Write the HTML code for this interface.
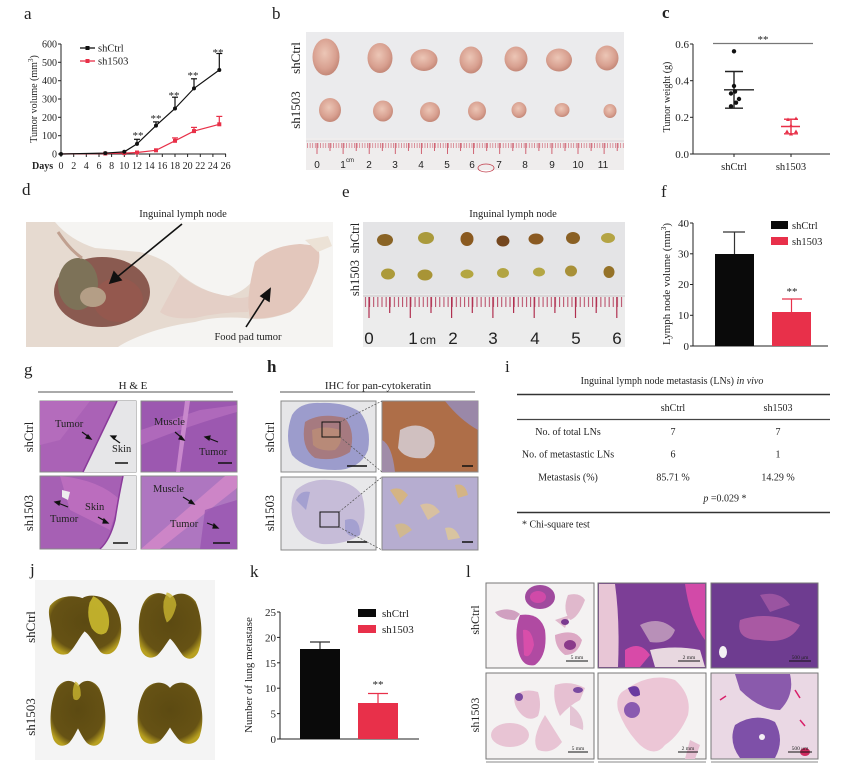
<!DOCTYPE html>
<html><head><meta charset="utf-8">
<style>
html,body{margin:0;padding:0;background:#fff;}
svg{display:block;}
text{font-family:"Liberation Serif",serif;fill:#222;}
.sans{font-family:"Liberation Sans",sans-serif;}
</style></head>
<body>
<svg width="852" height="772" viewBox="0 0 852 772" xmlns="http://www.w3.org/2000/svg">
<defs>
 <pattern id="mmB" x="307" y="0" width="2.61" height="20" patternUnits="userSpaceOnUse"><line x1="0.5" y1="0" x2="0.5" y2="20" stroke="#cc5566" stroke-width="0.6"/></pattern>
 <pattern id="mmE" x="369" y="0" width="4.13" height="20" patternUnits="userSpaceOnUse"><line x1="0.6" y1="0" x2="0.6" y2="20" stroke="#b03050" stroke-width="0.9"/></pattern>
 <radialGradient id="tum" cx="45%" cy="40%" r="60%"><stop offset="0" stop-color="#ecc6b6"/><stop offset="0.7" stop-color="#d8a090"/><stop offset="1" stop-color="#c48878"/></radialGradient>
 <radialGradient id="lung" cx="50%" cy="45%" r="60%"><stop offset="0" stop-color="#5c4a12"/><stop offset="0.8" stop-color="#665214"/><stop offset="1" stop-color="#b8a020"/></radialGradient>
</defs>

<!-- ============ panel a ============ -->
<text x="24" y="19" font-size="17">a</text>
<g stroke="#222" stroke-width="1" fill="none">
 <line x1="61" y1="44" x2="61" y2="154"/>
 <line x1="61" y1="154" x2="226" y2="154"/>
 <line x1="58" y1="44" x2="61" y2="44"/><line x1="58" y1="62.3" x2="61" y2="62.3"/><line x1="58" y1="80.7" x2="61" y2="80.7"/><line x1="58" y1="99" x2="61" y2="99"/><line x1="58" y1="117.3" x2="61" y2="117.3"/><line x1="58" y1="135.7" x2="61" y2="135.7"/><line x1="58" y1="154" x2="61" y2="154"/>
 <line x1="61" y1="154" x2="61" y2="157"/><line x1="73.7" y1="154" x2="73.7" y2="157"/><line x1="86.3" y1="154" x2="86.3" y2="157"/><line x1="99" y1="154" x2="99" y2="157"/><line x1="111.6" y1="154" x2="111.6" y2="157"/><line x1="124.3" y1="154" x2="124.3" y2="157"/><line x1="137" y1="154" x2="137" y2="157"/><line x1="149.6" y1="154" x2="149.6" y2="157"/><line x1="162.3" y1="154" x2="162.3" y2="157"/><line x1="175" y1="154" x2="175" y2="157"/><line x1="187.6" y1="154" x2="187.6" y2="157"/><line x1="200.3" y1="154" x2="200.3" y2="157"/><line x1="212.9" y1="154" x2="212.9" y2="157"/><line x1="225.6" y1="154" x2="225.6" y2="157"/>
</g>
<g font-size="10" text-anchor="end">
 <text x="57" y="47.5">600</text><text x="57" y="65.8">500</text><text x="57" y="84.2">400</text><text x="57" y="102.5">300</text><text x="57" y="120.8">200</text><text x="57" y="139.2">100</text><text x="57" y="157.5">0</text>
</g>
<g font-size="10" text-anchor="middle">
 <text x="61" y="169">0</text><text x="73.7" y="169">2</text><text x="86.3" y="169">4</text><text x="99" y="169">6</text><text x="111.6" y="169">8</text><text x="124.3" y="169">10</text><text x="137" y="169">12</text><text x="149.6" y="169">14</text><text x="162.3" y="169">16</text><text x="175" y="169">18</text><text x="187.6" y="169">20</text><text x="200.3" y="169">22</text><text x="212.9" y="169">24</text><text x="225.6" y="169">26</text>
</g>
<text x="32" y="169" font-size="10" font-weight="bold">Days</text>
<text transform="translate(37,99) rotate(-90)" font-size="10" text-anchor="middle" fill="#333">Tumor volume (mm<tspan font-size="7" dy="-4">3</tspan><tspan dy="4">)</tspan></text>
<!-- legend -->
<line x1="80" y1="48" x2="95" y2="48" stroke="#111" stroke-width="1.3"/><rect x="85.5" y="46" width="4" height="4" fill="#111"/>
<text x="98" y="51.5" font-size="10.5">shCtrl</text>
<line x1="80" y1="61" x2="95" y2="61" stroke="#e83048" stroke-width="1.3"/><rect x="85.5" y="59" width="4" height="4" fill="#e83048"/>
<text x="98" y="64.5" font-size="10.5">sh1503</text>
<!-- red series -->
<g stroke="#e83048" stroke-width="1.2" fill="none">
 <polyline points="61,154 105.3,153.5 124.3,153.1 137,152.5 156,150.3 175,140.8 194,131.1 219.3,124.3"/>
 <line x1="175" y1="140.8" x2="175" y2="137.9"/><line x1="172" y1="137.9" x2="178" y2="137.9"/>
 <line x1="194" y1="131.1" x2="194" y2="127.4"/><line x1="191" y1="127.4" x2="197" y2="127.4"/>
 <line x1="219.3" y1="124.3" x2="219.3" y2="116.4"/><line x1="216.3" y1="116.4" x2="222.3" y2="116.4"/>
</g>
<g fill="#e83048"><rect x="103.3" y="151.5" width="4" height="4"/><rect x="122.3" y="151.1" width="4" height="4"/><rect x="135" y="150.5" width="4" height="4"/><rect x="154" y="148.3" width="4" height="4"/><rect x="173" y="138.8" width="4" height="4"/><rect x="192" y="129.1" width="4" height="4"/><rect x="217.3" y="122.3" width="4" height="4"/></g>
<!-- black series -->
<g stroke="#111" stroke-width="1.2" fill="none">
 <polyline points="61,154 105.3,153.1 124.3,151.8 137,143.9 156,125.6 175,108.5 194,88.4 219.3,70"/>
 <line x1="137" y1="143.9" x2="137" y2="139.3"/><line x1="134" y1="139.3" x2="140" y2="139.3"/>
 <line x1="156" y1="125.6" x2="156" y2="121.9"/><line x1="153" y1="121.9" x2="159" y2="121.9"/>
 <line x1="175" y1="108.5" x2="175" y2="97.2"/><line x1="172" y1="97.2" x2="178" y2="97.2"/>
 <line x1="194" y1="88.4" x2="194" y2="78.8"/><line x1="191" y1="78.8" x2="197" y2="78.8"/>
 <line x1="219.3" y1="70" x2="219.3" y2="53.5"/><line x1="216.3" y1="53.5" x2="222.3" y2="53.5"/>
</g>
<g fill="#111"><circle cx="61" cy="154" r="2"/><circle cx="105.3" cy="153.1" r="2"/><circle cx="124.3" cy="151.8" r="2"/><circle cx="137" cy="143.9" r="2"/><circle cx="156" cy="125.6" r="2"/><circle cx="175" cy="108.5" r="2"/><circle cx="194" cy="88.4" r="2"/><circle cx="219.3" cy="70" r="2"/></g>
<g font-size="11" text-anchor="middle" fill="#333">
 <text x="138" y="139">**</text><text x="156" y="122">**</text><text x="174" y="99">**</text><text x="193" y="79">**</text><text x="218" y="56">**</text>
</g>

<!-- ============ panel b ============ -->
<text x="272" y="19" font-size="17">b</text>
<rect x="306" y="32" width="318" height="138" fill="#e8e8ea"/>
<rect x="306" y="32" width="318" height="108" fill="#ebebed"/>
<rect x="306" y="138" width="318" height="32" fill="#efeded"/>
<line x1="306" y1="141" x2="624" y2="141" stroke="#d8d4d6" stroke-width="1"/>
<rect x="307" y="143" width="317" height="5" fill="url(#mmB)"/>
<g stroke="#cc5566" stroke-width="0.9">
 <line x1="317" y1="143" x2="317" y2="154"/><line x1="343.1" y1="143" x2="343.1" y2="154"/><line x1="369.2" y1="143" x2="369.2" y2="154"/><line x1="395.3" y1="143" x2="395.3" y2="154"/><line x1="421.4" y1="143" x2="421.4" y2="154"/><line x1="447.5" y1="143" x2="447.5" y2="154"/><line x1="473.6" y1="143" x2="473.6" y2="154"/><line x1="499.7" y1="143" x2="499.7" y2="154"/><line x1="525.8" y1="143" x2="525.8" y2="154"/><line x1="551.9" y1="143" x2="551.9" y2="154"/><line x1="578" y1="143" x2="578" y2="154"/><line x1="604.1" y1="143" x2="604.1" y2="154"/>
 <line x1="330" y1="143" x2="330" y2="151"/><line x1="356.2" y1="143" x2="356.2" y2="151"/><line x1="382.3" y1="143" x2="382.3" y2="151"/><line x1="408.4" y1="143" x2="408.4" y2="151"/><line x1="434.5" y1="143" x2="434.5" y2="151"/><line x1="460.6" y1="143" x2="460.6" y2="151"/><line x1="486.7" y1="143" x2="486.7" y2="151"/><line x1="512.8" y1="143" x2="512.8" y2="151"/><line x1="538.9" y1="143" x2="538.9" y2="151"/><line x1="565" y1="143" x2="565" y2="151"/><line x1="591.1" y1="143" x2="591.1" y2="151"/><line x1="617.2" y1="143" x2="617.2" y2="151"/>
</g>
<g class="sans" font-size="10" text-anchor="middle">
 <text class="sans" x="317" y="168" fill="#c03a48">0</text><text class="sans" x="343" y="168" fill="#c03a48">1</text><text class="sans" x="350" y="162" font-size="6" fill="#c03a48">cm</text><text class="sans" x="369" y="168" fill="#c03a48">2</text><text class="sans" x="395" y="168" fill="#c03a48">3</text><text class="sans" x="421" y="168" fill="#c03a48">4</text><text class="sans" x="447" y="168" fill="#c03a48">5</text><text class="sans" x="472" y="168" fill="#c03a48">6</text><text class="sans" x="499" y="168" fill="#c03a48">7</text><text class="sans" x="525" y="168" fill="#c03a48">8</text><text class="sans" x="552" y="168" fill="#c03a48">9</text><text class="sans" x="578" y="168" fill="#c03a48">10</text><text class="sans" x="603" y="168" fill="#c03a48">11</text>
</g>
<ellipse cx="486" cy="168" rx="8" ry="4" fill="none" stroke="#c03a48" stroke-width="0.8"/>
<g fill="url(#tum)">
 <ellipse cx="326" cy="57" rx="13.5" ry="18.5"/><ellipse cx="380" cy="58" rx="12.5" ry="15"/><ellipse cx="424" cy="60" rx="13.5" ry="11"/><ellipse cx="471" cy="60" rx="11.5" ry="13.5"/><ellipse cx="516" cy="59" rx="11.5" ry="12.5"/><ellipse cx="559" cy="60" rx="13" ry="11.5"/><ellipse cx="607" cy="58" rx="11.5" ry="12.5"/>
 <ellipse cx="330" cy="110" rx="11" ry="12"/><ellipse cx="383" cy="111" rx="10" ry="10.5"/><ellipse cx="430" cy="112" rx="10" ry="10"/><ellipse cx="477" cy="111" rx="9" ry="9.5"/><ellipse cx="519" cy="110" rx="7.5" ry="8"/><ellipse cx="562" cy="110" rx="7.5" ry="7"/><ellipse cx="610" cy="111" rx="6.5" ry="7"/>
</g>
<text transform="translate(300,58) rotate(-90)" font-size="13" text-anchor="middle">shCtrl</text>
<text transform="translate(300,110) rotate(-90)" font-size="13" text-anchor="middle">sh1503</text>

<!-- ============ panel c ============ -->
<text x="662" y="18" font-size="17" font-weight="bold">c</text>
<g stroke="#222" stroke-width="1" fill="none">
 <line x1="693" y1="44" x2="693" y2="154"/><line x1="693" y1="154" x2="830" y2="154"/>
 <line x1="690" y1="44" x2="693" y2="44"/><line x1="690" y1="80.7" x2="693" y2="80.7"/><line x1="690" y1="117.3" x2="693" y2="117.3"/><line x1="690" y1="154" x2="693" y2="154"/>
 <line x1="734" y1="154" x2="734" y2="157"/><line x1="791" y1="154" x2="791" y2="157"/>
</g>
<g font-size="11" text-anchor="end"><text x="689" y="48">0.6</text><text x="689" y="84.5">0.4</text><text x="689" y="121">0.2</text><text x="689" y="158">0.0</text></g>
<g font-size="10.5" text-anchor="middle"><text x="734" y="170">shCtrl</text><text x="791" y="170">sh1503</text></g>
<text transform="translate(670,97) rotate(-90)" font-size="10" text-anchor="middle" fill="#333">Tumor weight (g)</text>
<line x1="713" y1="43.5" x2="813" y2="43.5" stroke="#777" stroke-width="1.2"/>
<text x="763" y="43" font-size="11" text-anchor="middle" fill="#444">**</text>
<g stroke="#222" stroke-width="1.4">
 <line x1="724" y1="89.8" x2="754" y2="89.8"/><line x1="734" y1="71.5" x2="734" y2="108.2"/><line x1="725" y1="71.5" x2="743" y2="71.5"/><line x1="725" y1="108.2" x2="743" y2="108.2"/>
</g>
<g fill="#111"><circle cx="734" cy="51.3" r="2.2"/><circle cx="734" cy="86" r="2.2"/><circle cx="735" cy="91.6" r="2.2"/><circle cx="731" cy="93.5" r="2.2"/><circle cx="739" cy="99" r="2.2"/><circle cx="736" cy="102.7" r="2.2"/><circle cx="731" cy="106.3" r="2.2"/></g>
<g stroke="#e83048" stroke-width="1.4">
 <line x1="781" y1="126.5" x2="800" y2="126.5"/><line x1="791" y1="119.2" x2="791" y2="133.8"/><line x1="784" y1="119.2" x2="798" y2="119.2"/><line x1="784" y1="133.8" x2="798" y2="133.8"/>
</g>
<g fill="#e83048"><path d="M786,121 l2,-3.5 l2,3.5z"/><path d="M794,120 l2,-3.5 l2,3.5z"/><path d="M789,127 l2,-3.5 l2,3.5z"/><path d="M785,133 l2,-3.5 l2,3.5z"/><path d="M794,133 l2,-3.5 l2,3.5z"/><path d="M789,135.5 l2,-3.5 l2,3.5z"/></g>

<!-- ============ panel d ============ -->
<text x="22" y="195" font-size="17">d</text>
<rect x="26" y="222" width="307" height="125" fill="#f5f4f2"/>
<path d="M26,222 L55,222 Q70,240 95,248 L140,252 Q165,258 178,272 Q200,292 228,296 Q248,292 262,268 Q275,248 300,244 L318,246 Q322,262 314,278 Q306,300 290,312 Q265,322 245,318 Q215,316 195,322 Q165,326 140,336 Q125,342 118,347 L26,347 Z" fill="#e6dad0"/>
<path d="M180,275 Q200,292 228,296 Q240,300 250,296 L248,312 Q220,312 195,318 Q170,320 160,312 Z" fill="#e4cfc6"/>
<path d="M255,262 Q270,246 300,244 L318,246 Q322,262 314,278 Q306,300 290,312 Q268,320 250,318 Q245,300 255,262 Z" fill="#e3c7bc"/>
<path d="M305,240 L328,236 L332,246 L318,252 Z" fill="#ece2d6"/>
<ellipse cx="102" cy="292" rx="48" ry="35" fill="#8a5a50"/>
<ellipse cx="78" cy="284" rx="20" ry="26" fill="#7d7258"/>
<ellipse cx="118" cy="300" rx="25" ry="22" fill="#94584e"/>
<ellipse cx="93" cy="297" rx="13" ry="10" fill="#b49e86"/>
<path d="M58,232 Q70,250 82,258" stroke="#c0a090" stroke-width="3" fill="none"/>
<g stroke="#111" stroke-width="1.6" fill="#111">
 <line x1="182" y1="224" x2="116" y2="278"/><path d="M110,283 L114,272 L121,280 Z"/>
 <line x1="246" y1="327" x2="266" y2="296"/><path d="M270,289 L261,296 L269,301 Z"/>
</g>
<text x="183" y="217" font-size="10.5" text-anchor="middle">Inguinal lymph node</text>
<text x="248" y="340" font-size="10.5" text-anchor="middle">Food pad tumor</text>

<!-- ============ panel e ============ -->
<text x="342" y="197" font-size="17">e</text>
<text x="513" y="217" font-size="10.5" text-anchor="middle">Inguinal lymph node</text>
<rect x="363" y="222" width="262" height="125" fill="#e4e4e6"/>
<rect x="363" y="294" width="262" height="53" fill="#ececec"/>
<line x1="363" y1="296" x2="625" y2="296" stroke="#c8c4c6" stroke-width="1"/>
<rect x="364" y="297" width="261" height="10" fill="url(#mmE)"/>
<g stroke="#b03050" stroke-width="1.2">
 <line x1="369" y1="297" x2="369" y2="318"/><line x1="410.3" y1="297" x2="410.3" y2="318"/><line x1="451.6" y1="297" x2="451.6" y2="318"/><line x1="492.9" y1="297" x2="492.9" y2="318"/><line x1="534.2" y1="297" x2="534.2" y2="318"/><line x1="575.5" y1="297" x2="575.5" y2="318"/><line x1="616.8" y1="297" x2="616.8" y2="318"/>
 <line x1="389.7" y1="297" x2="389.7" y2="313"/><line x1="431" y1="297" x2="431" y2="313"/><line x1="472.3" y1="297" x2="472.3" y2="313"/><line x1="513.6" y1="297" x2="513.6" y2="313"/><line x1="554.9" y1="297" x2="554.9" y2="313"/><line x1="596.2" y1="297" x2="596.2" y2="313"/>
</g>
<g font-size="17" text-anchor="middle">
 <text class="sans" x="369" y="344" fill="#a81c3c">0</text><text class="sans" x="413" y="344" fill="#a81c3c">1</text><text class="sans" x="428" y="344" font-size="12" fill="#a81c3c">cm</text><text class="sans" x="453" y="344" fill="#a81c3c">2</text><text class="sans" x="493" y="344" fill="#a81c3c">3</text><text class="sans" x="535" y="344" fill="#a81c3c">4</text><text class="sans" x="576" y="344" fill="#a81c3c">5</text><text class="sans" x="617" y="344" fill="#a81c3c">6</text>
</g>
<g>
 <ellipse cx="385" cy="240" rx="8" ry="6" fill="#8a6426"/><ellipse cx="426" cy="238" rx="8" ry="6" fill="#aa9a3c"/><ellipse cx="467" cy="239" rx="6.5" ry="7" fill="#8a5a20"/><ellipse cx="503" cy="241" rx="6.5" ry="5.5" fill="#74461e"/><ellipse cx="536" cy="239" rx="7.5" ry="5.5" fill="#8a5a22"/><ellipse cx="573" cy="238" rx="7" ry="6" fill="#8a6024"/><ellipse cx="608" cy="238" rx="7" ry="5" fill="#b4a444"/>
 <ellipse cx="388" cy="274" rx="7" ry="5.5" fill="#ac9a3a"/><ellipse cx="425" cy="275" rx="7.5" ry="5.5" fill="#a89436"/><ellipse cx="467" cy="274" rx="6.5" ry="4.5" fill="#b4a640"/><ellipse cx="503" cy="273" rx="6" ry="5" fill="#b2a442"/><ellipse cx="539" cy="272" rx="6" ry="4.5" fill="#b4a644"/><ellipse cx="571" cy="271" rx="6" ry="5.5" fill="#a89038"/><ellipse cx="609" cy="272" rx="5.5" ry="6" fill="#957228"/>
</g>
<text transform="translate(359,238) rotate(-90)" font-size="12.5" text-anchor="middle">shCtrl</text>
<text transform="translate(359,278) rotate(-90)" font-size="12.5" text-anchor="middle">sh1503</text>

<!-- ============ panel f ============ -->
<text x="661" y="197" font-size="17">f</text>
<g stroke="#222" stroke-width="1" fill="none">
 <line x1="693" y1="223" x2="693" y2="346"/><line x1="693" y1="346" x2="828" y2="346"/>
 <line x1="690" y1="223" x2="693" y2="223"/><line x1="690" y1="253.8" x2="693" y2="253.8"/><line x1="690" y1="284.5" x2="693" y2="284.5"/><line x1="690" y1="315.3" x2="693" y2="315.3"/><line x1="690" y1="346" x2="693" y2="346"/>
</g>
<g font-size="11" text-anchor="end"><text x="689" y="227">40</text><text x="689" y="257.5">30</text><text x="689" y="288">20</text><text x="689" y="319">10</text><text x="689" y="350">0</text></g>
<text transform="translate(670,284) rotate(-90)" font-size="11" text-anchor="middle" fill="#333">Lymph node volume (mm<tspan font-size="7.5" dy="-4">3</tspan><tspan dy="4">)</tspan></text>
<rect x="715" y="254" width="39" height="92" fill="#0a0a0a"/>
<g stroke="#333" stroke-width="1.2"><line x1="734.5" y1="254" x2="734.5" y2="232"/><line x1="723" y1="232" x2="745" y2="232"/></g>
<rect x="772" y="312" width="39" height="34" fill="#e8304a"/>
<g stroke="#e8304a" stroke-width="1.2"><line x1="791.5" y1="312" x2="791.5" y2="299"/><line x1="782" y1="299" x2="802" y2="299"/></g>
<text x="792" y="295" font-size="11" text-anchor="middle" fill="#444">**</text>
<rect x="771" y="221" width="17" height="8" fill="#0a0a0a"/><text x="792" y="229" font-size="10.5">shCtrl</text>
<rect x="771" y="237" width="17" height="8" fill="#e8304a"/><text x="792" y="245" font-size="10.5">sh1503</text>

<!-- ============ panel g ============ -->
<text x="24" y="375" font-size="17">g</text>
<text x="133" y="389" font-size="11" text-anchor="middle">H &amp; E</text>
<line x1="38" y1="392" x2="233" y2="392" stroke="#555" stroke-width="1"/>
<!-- TL -->
<rect x="40" y="401" width="96" height="71" fill="#aa62b6" stroke="#888" stroke-width="1"/>
<path d="M40,401 L90,401 L60,440 L40,445 Z" fill="#b46cbc"/>
<polygon points="117,401 136,401 136,472 83,472" fill="#e6e6e8"/>
<line x1="117" y1="401" x2="83" y2="472" stroke="#8a3a9a" stroke-width="1.5"/>
<!-- TR -->
<rect x="141" y="401" width="96" height="71" fill="#9c58b0" stroke="#888" stroke-width="1"/>
<path d="M141,430 Q170,420 200,410 L237,405 L237,412 Q190,425 141,445 Z" fill="#b870c0" opacity="0.7"/>
<path d="M185,401 L190,401 L180,472 L176,472 Z" fill="#c888cc"/>
<!-- BL -->
<rect x="40" y="476" width="96" height="73" fill="#a660b4" stroke="#888" stroke-width="1"/>
<path d="M60,476 Q100,480 120,500 L110,530 Q90,520 70,510 Z" fill="#c070c0" opacity="0.8"/>
<path d="M123,476 Q118,500 115,520 Q110,540 100,549 L136,549 L136,476 Z" fill="#e6e6e8"/>
<path d="M123,476 Q118,500 115,520 Q110,540 100,549" stroke="#8a3a9a" stroke-width="1.5" fill="none"/>
<path d="M62,490 l8,2 l-2,8 l-6,-3 z" fill="#eee"/>
<!-- BR -->
<rect x="141" y="476" width="96" height="73" fill="#ae76c0" stroke="#888" stroke-width="1"/>
<path d="M141,549 L160,549 L237,488 L237,476 L225,476 Z" fill="#d48ac8" opacity="0.8"/>
<path d="M205,510 Q220,505 237,500 L237,549 L200,549 Z" fill="#9856b0" opacity="0.8"/>
<g font-size="10.5">
 <text x="55" y="427">Tumor</text><text x="112" y="452">Skin</text>
 <text x="154" y="425">Muscle</text><text x="199" y="455">Tumor</text>
 <text x="50" y="522">Tumor</text><text x="85" y="510">Skin</text>
 <text x="153" y="492">Muscle</text><text x="170" y="527">Tumor</text>
</g>
<g stroke="#111" stroke-width="1.2" fill="#111">
 <line x1="82" y1="432" x2="89" y2="437"/><path d="M91,439 l-5,-1 l2,-3z"/>
 <line x1="120" y1="443" x2="113" y2="438"/><path d="M111,436 l5,0 l-2,3z"/>
 <line x1="175" y1="432" x2="182" y2="438"/><path d="M184,440 l-5,-1 l2,-3z"/>
 <line x1="218" y1="442" x2="208" y2="438"/><path d="M205,437 l5,-1 l-1,4z"/>
 <line x1="68" y1="507" x2="58" y2="503"/><path d="M55,502 l5,-1 l-1,4z"/>
 <line x1="98" y1="517" x2="105" y2="521"/><path d="M108,523 l-5,0 l1,-4z"/>
 <line x1="183" y1="497" x2="191" y2="502"/><path d="M194,504 l-5,-1 l2,-3z"/>
 <line x1="207" y1="523" x2="215" y2="526"/><path d="M218,528 l-5,0 l1,-4z"/>
</g>
<g stroke="#111" stroke-width="1.5">
 <line x1="115" y1="463" x2="128" y2="463"/><line x1="218" y1="463" x2="232" y2="463"/><line x1="113" y1="543" x2="128" y2="543"/><line x1="213" y1="543" x2="230" y2="543"/>
</g>
<text transform="translate(33,437) rotate(-90)" font-size="12.5" text-anchor="middle">shCtrl</text>
<text transform="translate(33,513) rotate(-90)" font-size="12.5" text-anchor="middle">sh1503</text>

<!-- ============ panel h ============ -->
<text x="267" y="372" font-size="17" font-weight="bold">h</text>
<text x="378" y="389" font-size="11" text-anchor="middle">IHC for pan-cytokeratin</text>
<line x1="280" y1="392" x2="475" y2="392" stroke="#555" stroke-width="1"/>
<rect x="281" y="401" width="95" height="71" fill="#e6e6e8" stroke="#888" stroke-width="1"/>
<path d="M292,415 Q300,402 320,403 Q345,402 360,412 Q372,428 368,450 Q360,470 335,470 Q305,470 292,455 Q284,437 292,415 Z" fill="#9c9ccc"/>
<path d="M305,422 Q320,412 345,418 Q356,432 350,452 Q335,462 315,458 Q300,448 305,422 Z" fill="#a67a80"/>
<path d="M312,430 Q325,425 340,430 Q344,442 335,450 Q320,452 313,445 Z" fill="#b88a78"/>
<rect x="382" y="401" width="96" height="71" fill="#ae6e48" stroke="#888" stroke-width="1"/>
<path d="M400,430 Q418,420 432,432 Q440,448 425,458 Q405,460 398,448 Z" fill="#d0c0c0"/>
<path d="M445,401 L478,401 L478,430 Q460,420 445,401 Z" fill="#9a88a8"/>
<path d="M382,440 Q392,445 395,472 L382,472 Z" fill="#a08ca8"/>
<rect x="281" y="477" width="95" height="73" fill="#e8e8ea" stroke="#888" stroke-width="1"/>
<path d="M296,490 Q310,478 330,480 Q352,481 362,495 Q368,515 360,535 Q345,545 322,544 Q300,540 294,522 Q288,505 296,490 Z" fill="#c6bcd8"/>
<path d="M296,500 Q300,490 310,492 L306,510 Z" fill="#a4a0d0"/><path d="M345,520 Q360,515 360,535 Q350,540 345,530 Z" fill="#a4a0d0"/>
<rect x="382" y="477" width="96" height="73" fill="#b6add0" stroke="#888" stroke-width="1"/>
<path d="M390,490 Q400,485 408,495 L400,505 Z" fill="#d4b484"/><path d="M420,505 Q432,500 440,512 L428,520 Z" fill="#d8c0a0"/><path d="M455,485 Q465,482 468,495 L458,498 Z" fill="#d4b484"/><path d="M395,525 Q405,520 412,530 L400,538 Z" fill="#d0b890"/><path d="M445,528 Q455,525 460,538 L448,540 Z" fill="#d8c4a0"/>
<g fill="none" stroke="#111" stroke-width="1"><rect x="322" y="422" width="18" height="15"/><rect x="320" y="512" width="19" height="15"/></g>
<g stroke="#555" stroke-width="0.7" stroke-dasharray="2,1.5"><line x1="340" y1="422" x2="382" y2="401"/><line x1="340" y1="437" x2="382" y2="472"/><line x1="339" y1="512" x2="382" y2="477"/><line x1="339" y1="527" x2="382" y2="550"/></g>
<g stroke="#111" stroke-width="1.5"><line x1="347" y1="466" x2="367" y2="466"/><line x1="462" y1="466" x2="473" y2="466"/><line x1="347" y1="542" x2="367" y2="542"/><line x1="462" y1="542" x2="473" y2="542"/></g>
<text transform="translate(274,437) rotate(-90)" font-size="12.5" text-anchor="middle">shCtrl</text>
<text transform="translate(274,513) rotate(-90)" font-size="12.5" text-anchor="middle">sh1503</text>

<!-- ============ panel i ============ -->
<text x="505" y="372" font-size="17">i</text>
<text x="672" y="384" font-size="10" text-anchor="middle">Inguinal lymph node metastasis (LNs) <tspan font-style="italic">in vivo</tspan></text>
<line x1="517" y1="394.5" x2="830" y2="394.5" stroke="#333" stroke-width="1.6"/>
<line x1="517" y1="419.5" x2="830" y2="419.5" stroke="#444" stroke-width="1.2"/>
<line x1="517" y1="512.5" x2="830" y2="512.5" stroke="#333" stroke-width="1.6"/>
<g font-size="10" text-anchor="middle">
 <text x="673" y="411">shCtrl</text><text x="778" y="411">sh1503</text>
 <text x="568" y="435">No. of total LNs</text><text x="673" y="435">7</text><text x="778" y="435">7</text>
 <text x="568" y="457.5">No. of metastastic LNs</text><text x="673" y="457.5">6</text><text x="778" y="457.5">1</text>
 <text x="568" y="480.5">Metastasis (%)</text><text x="673" y="480.5">85.71 %</text><text x="778" y="480.5">14.29 %</text>
 <text x="725" y="501.5"><tspan font-style="italic">p</tspan> =0.029 *</text>
</g>
<text x="522" y="527.5" font-size="10">* Chi-square test</text>

<!-- ============ panel j ============ -->
<text x="30" y="575" font-size="17">j</text>
<rect x="35" y="580" width="180" height="180" fill="#f4f4f4"/>
<path d="M0,20 C10,5 30,2 45,8 C55,0 75,5 85,15 C100,30 102,60 95,80 C90,95 78,100 70,92 C62,80 55,65 48,60 C40,70 35,85 25,95 C12,100 0,90 2,70 C4,50 -5,35 0,20 Z" transform="translate(50,593) scale(0.72,0.64)" fill="url(#lung)"/>
<path d="M60,5 Q72,10 80,30 Q85,50 78,62 Q68,70 58,55 Q50,35 55,15 Z" transform="translate(50,593) scale(0.72,0.64)" fill="#d0c030" opacity="0.85"/>
<path d="M10,15 C20,0 40,0 50,10 C62,0 80,2 90,15 C100,35 102,65 95,85 C90,98 78,100 70,92 C62,82 56,72 50,68 C44,75 38,85 30,92 C18,100 5,92 3,78 C0,55 0,30 10,15 Z" transform="translate(138,591) scale(0.64,0.7)" fill="url(#lung)"/>
<path d="M45,2 Q58,5 60,20 Q55,40 45,45 Q38,30 40,15 Z" transform="translate(138,591) scale(0.64,0.7)" fill="#c8b430" opacity="0.8"/>
<path d="M50,12 C60,0 78,2 88,15 C100,35 102,65 95,85 C90,98 75,100 65,92 C58,85 54,78 50,72 C46,78 42,85 35,92 C25,100 10,98 5,85 C-2,65 0,35 12,15 C22,2 40,0 50,12 Z" transform="translate(50,678) scale(0.56,0.7)" fill="url(#lung)"/>
<path d="M45,5 Q55,8 55,25 Q50,35 42,30 Q38,18 45,5 Z" transform="translate(50,678) scale(0.56,0.7)" fill="#c8b430" opacity="0.8"/>
<path d="M50,12 C60,0 78,2 88,15 C100,35 102,65 95,85 C90,98 75,100 65,92 C58,85 54,78 50,72 C46,78 42,85 35,92 C25,100 10,98 5,85 C-2,65 0,35 12,15 C22,2 40,0 50,12 Z" transform="translate(137,680) scale(0.66,0.66)" fill="url(#lung)"/>
<text transform="translate(35,627) rotate(-90)" font-size="13" text-anchor="middle">shCtrl</text>
<text transform="translate(35,717) rotate(-90)" font-size="13" text-anchor="middle">sh1503</text>

<!-- ============ panel k ============ -->
<text x="250" y="577" font-size="17">k</text>
<g stroke="#222" stroke-width="1" fill="none">
 <line x1="280" y1="612" x2="280" y2="739"/><line x1="280" y1="739" x2="419" y2="739"/>
 <line x1="277" y1="612" x2="280" y2="612"/><line x1="277" y1="637.4" x2="280" y2="637.4"/><line x1="277" y1="662.8" x2="280" y2="662.8"/><line x1="277" y1="688.2" x2="280" y2="688.2"/><line x1="277" y1="713.6" x2="280" y2="713.6"/><line x1="277" y1="739" x2="280" y2="739"/>
</g>
<g font-size="11" text-anchor="end"><text x="276" y="616">25</text><text x="276" y="641.4">20</text><text x="276" y="666.8">15</text><text x="276" y="692.2">10</text><text x="276" y="717.6">5</text><text x="276" y="743">0</text></g>
<text transform="translate(252,675) rotate(-90)" font-size="11" text-anchor="middle" fill="#333">Number of lung metastase</text>
<rect x="300" y="649" width="40" height="90" fill="#0a0a0a"/>
<g stroke="#333" stroke-width="1.2"><line x1="320" y1="649" x2="320" y2="642"/><line x1="310" y1="642" x2="330" y2="642"/></g>
<rect x="358" y="703" width="40" height="36" fill="#e8304a"/>
<g stroke="#e8304a" stroke-width="1.2"><line x1="378" y1="703" x2="378" y2="693.5"/><line x1="368" y1="693.5" x2="388" y2="693.5"/></g>
<text x="378" y="688" font-size="11" text-anchor="middle" fill="#444">**</text>
<rect x="358" y="609" width="18" height="8" fill="#0a0a0a"/><text x="382" y="617" font-size="11">shCtrl</text>
<rect x="358" y="625" width="18" height="8" fill="#e8304a"/><text x="382" y="633" font-size="11">sh1503</text>

<!-- ============ panel l ============ -->
<text x="466" y="577" font-size="17">l</text>
<!-- r1c1 -->
<rect x="486" y="583" width="108" height="85" fill="#f4f2f2" stroke="#777" stroke-width="1"/>
<ellipse cx="540" cy="597" rx="15" ry="12" fill="#a04a9e"/><ellipse cx="538" cy="597" rx="8" ry="6" fill="#d04aa8"/>
<path d="M520,615 Q540,612 545,630 Q548,655 535,665 Q522,668 518,650 Q514,630 520,615 Z" fill="#b04aa2"/>
<path d="M523,630 Q532,628 534,645 Q530,660 524,655 Z" fill="#d84eaa"/>
<path d="M495,612 Q510,606 520,614 L515,620 Q500,620 495,612 Z" fill="#d0a0c0"/>
<path d="M568,595 Q580,592 585,600 Q578,618 570,620 Q562,610 568,595 Z" fill="#e0b8cc"/>
<path d="M555,635 Q575,628 582,640 Q578,655 565,655 Q555,648 555,635 Z" fill="#dca8c4"/><ellipse cx="570" cy="645" rx="6" ry="5" fill="#8a3a8a"/>
<path d="M555,620 L570,615 L565,628 Z" fill="#e0b8cc"/><ellipse cx="565" cy="622" rx="4" ry="3" fill="#7a3a90"/>
<!-- r1c2 -->
<rect x="598" y="583" width="108" height="85" fill="#7c3e96" stroke="#777" stroke-width="1"/>
<path d="M599,584 L615,584 Q620,620 618,667 L599,667 Z" fill="#e8c6d6"/>
<path d="M640,625 Q660,615 675,630 Q670,645 650,642 Z" fill="#b890b8"/>
<path d="M685,584 L705,584 L705,640 Q690,620 685,584 Z" fill="#d24aa8"/>
<path d="M650,650 Q675,645 700,650 L705,667 L655,667 Z" fill="#e8d8e0"/>
<path d="M625,650 Q640,640 650,655 L640,667 L625,667 Z" fill="#d84aa8"/>
<!-- r1c3 -->
<rect x="711" y="583" width="107" height="85" fill="#6e3c90" stroke="#777" stroke-width="1"/>
<path d="M740,620 Q770,610 800,625 Q790,645 760,640 Q735,640 740,620 Z" fill="#b860a8" opacity="0.8"/>
<path d="M760,595 Q780,590 790,605 L770,612 Z" fill="#a55aa5" opacity="0.8"/>
<ellipse cx="723" cy="652" rx="4" ry="6" fill="#f4f0f4"/>
<!-- r2c1 -->
<rect x="486" y="673" width="108" height="86" fill="#f4f2f2" stroke="#777" stroke-width="1"/>
<path d="M515,695 Q525,688 538,692 Q542,705 538,716 Q530,722 522,715 Q512,705 515,695 Z" fill="#e6c0d2"/><ellipse cx="519" cy="697" rx="4" ry="4" fill="#7a4aa0"/>
<path d="M555,685 Q570,680 585,688 L580,700 Q570,705 560,716 Q552,700 555,685 Z" fill="#e6c0d2"/><ellipse cx="578" cy="690" rx="5" ry="3" fill="#7a4aa0"/>
<path d="M570,705 Q585,715 583,730 L570,725 Z" fill="#e4c4d4"/>
<ellipse cx="510" cy="735" rx="19" ry="12" fill="#e8c4d4"/>
<path d="M545,715 L562,742 Q552,755 538,750 Q530,740 545,715 Z" fill="#e8c4d4"/>
<!-- r2c2 -->
<rect x="598" y="673" width="108" height="86" fill="#f4f2f2" stroke="#777" stroke-width="1"/>
<path d="M625,690 Q650,672 675,680 Q692,695 688,715 Q680,735 665,745 Q655,758 640,745 Q625,730 618,710 Q615,695 625,690 Z" fill="#ecc6d6"/>
<path d="M628,688 Q640,682 640,695 Q632,700 628,688 Z" fill="#6a3aa0"/>
<ellipse cx="632" cy="710" rx="8" ry="8" fill="#8a5ab0"/>
<path d="M690,740 L700,745 L695,759 L685,759 Z" fill="#e6c0d2"/>
<!-- r2c3 -->
<rect x="711" y="673" width="107" height="86" fill="#ead8e4" stroke="#777" stroke-width="1"/>
<path d="M735,674 L790,674 Q795,695 780,710 Q760,710 740,690 Z" fill="#8a5aac"/>
<path d="M735,725 Q755,712 775,722 Q785,740 775,758 L740,758 Q728,742 735,725 Z" fill="#7e50a8"/>
<ellipse cx="762" cy="737" rx="3" ry="3" fill="#f4eef4"/>
<ellipse cx="805" cy="752" rx="5" ry="4" fill="#d02a60"/>
<g stroke="#d8206a" stroke-width="1.5"><line x1="795" y1="690" x2="800" y2="698"/><line x1="720" y1="700" x2="726" y2="696"/><line x1="800" y1="720" x2="805" y2="726"/></g>
<!-- scale bars -->
<g stroke="#111" stroke-width="1"><line x1="566" y1="661" x2="588" y2="661"/><line x1="678" y1="661" x2="700" y2="661"/><line x1="789" y1="661" x2="811" y2="661"/><line x1="568" y1="752" x2="588" y2="752"/><line x1="678" y1="752" x2="698" y2="752"/><line x1="788" y1="752" x2="812" y2="752"/></g>
<g font-size="5.5" text-anchor="middle"><text x="577" y="659">5 mm</text><text x="689" y="659">2 mm</text><text x="800" y="659">500 μm</text><text x="578" y="750">5 mm</text><text x="688" y="750">2 mm</text><text x="800" y="750">500 μm</text></g>
<g stroke="#888" stroke-width="1"><line x1="486" y1="762" x2="594" y2="762"/><line x1="598" y1="762" x2="706" y2="762"/><line x1="711" y1="762" x2="818" y2="762"/></g>
<text transform="translate(479,620) rotate(-90)" font-size="12" text-anchor="middle">shCtrl</text>
<text transform="translate(479,715) rotate(-90)" font-size="12" text-anchor="middle">sh1503</text>
</svg>
</body></html>
